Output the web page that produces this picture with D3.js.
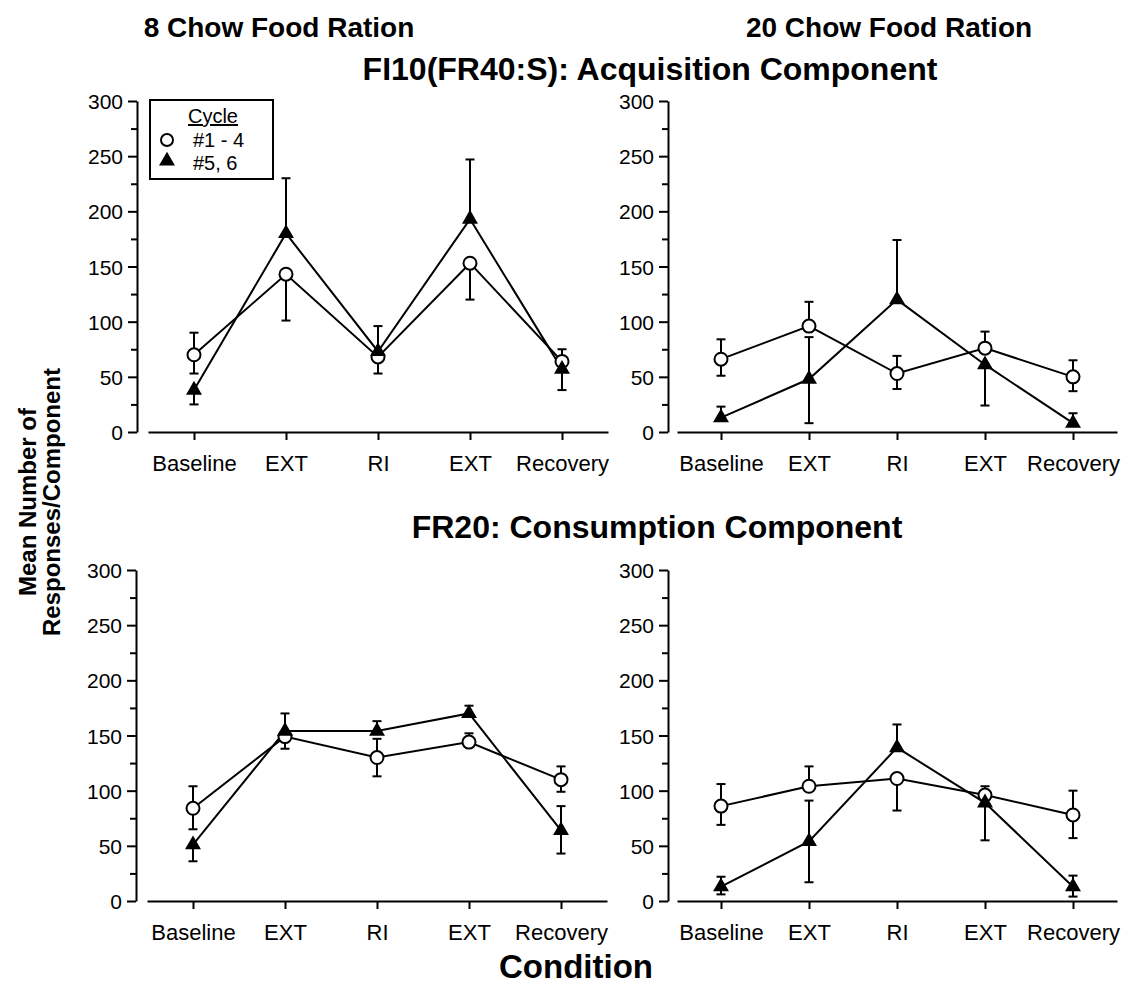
<!DOCTYPE html>
<html>
<head>
<meta charset="utf-8">
<script src="https://cdn.jsdelivr.net/npm/d3@7"></script>
<style>
    body { margin: 0; background: #fff; }
    svg { display: block; font-family: "Liberation Sans", Arial, sans-serif; }
</style>
</head>
<body>
<div id="chart"></div>
<script>
const conditions = ["Baseline", "EXT", "RI", "EXT", "Recovery"];
const yTicks = [0, 50, 100, 150, 200, 250, 300];
const yMinorTicks = [25, 75, 125, 175, 225, 275];
const seriesNames = ["#1 - 4", "#5, 6"];

// 8 chow, acquisition component
const acq8Cycle14 = [70, 143, 68, 153, 64];
const acq8Cycle14Up = [20, 0, 0, 0, 11];
const acq8Cycle14Down = [17, 42, 15, 33, 0];
const acq8Cycle56 = [38, 180, 73, 193, 57];
const acq8Cycle56Up = [0, 50, 23, 54, 0];
const acq8Cycle56Down = [13, 0, 0, 0, 19];

// 20 chow, acquisition component
const acq20Cycle14 = [66, 96, 53, 76, 50];
const acq20Cycle14Up = [18, 22, 16, 15, 15];
const acq20Cycle14Down = [15, 0, 14, 0, 13];
const acq20Cycle56 = [13, 48, 120, 61, 8];
const acq20Cycle56Up = [10, 38, 54, 0, 9];
const acq20Cycle56Down = [0, 40, 0, 37, 0];

// 8 chow, consumption component
const con8Cycle14 = [84, 149, 130, 144, 110];
const con8Cycle14Up = [20, 0, 17, 8, 12];
const con8Cycle14Down = [19, 11, 17, 0, 11];
const con8Cycle56 = [51, 154, 154, 170, 64];
const con8Cycle56Up = [0, 16, 9, 7, 22];
const con8Cycle56Down = [15, 0, 0, 0, 21];

// 20 chow, consumption component
const con20Cycle14 = [86, 104, 111, 96, 78];
const con20Cycle14Up = [20, 18, 0, 8, 22];
const con20Cycle14Down = [17, 0, 29, 0, 21];
const con20Cycle56 = [13, 54, 139, 89, 13];
const con20Cycle56Up = [9, 37, 21, 0, 10];
const con20Cycle56Down = [7, 37, 0, 34, 9];

const width = 1146;
const height = 987;

const svg = d3.select("#chart").append("svg")
    .attr("width", width)
    .attr("height", height);

const panels = [
    {axisX: 137, x0: 148, x1: 608, y0: 432, y1: 101,
        circle: [acq8Cycle14, acq8Cycle14Up, acq8Cycle14Down],
        triangle: [acq8Cycle56, acq8Cycle56Up, acq8Cycle56Down], legend: true},
    {axisX: 668, x0: 677, x1: 1117, y0: 432, y1: 101,
        circle: [acq20Cycle14, acq20Cycle14Up, acq20Cycle14Down],
        triangle: [acq20Cycle56, acq20Cycle56Up, acq20Cycle56Down]},
    {axisX: 136, x0: 147, x1: 607, y0: 901, y1: 570,
        circle: [con8Cycle14, con8Cycle14Up, con8Cycle14Down],
        triangle: [con8Cycle56, con8Cycle56Up, con8Cycle56Down]},
    {axisX: 668, x0: 677, x1: 1117, y0: 901, y1: 570,
        circle: [con20Cycle14, con20Cycle14Up, con20Cycle14Down],
        triangle: [con20Cycle56, con20Cycle56Up, con20Cycle56Down]}
];

const triangle = d3.symbol().type(d3.symbolTriangle).size(110);

const drawPanel = function (p) {
    const x = d3.scalePoint()
        .domain(d3.range(conditions.length))
        .range([p.x0, p.x1])
        .padding(0.5);
    const y = d3.scaleLinear()
        .domain([0, 300])
        .range([p.y0, p.y1]);

    const g = svg.append("g");

    // y axis: labelled ticks every 50, short ones in between
    g.append("g")
        .attr("transform", "translate(" + p.axisX + ",0)")
        .call(d3.axisLeft(y).tickValues(yTicks).tickSize(9).tickSizeOuter(0).tickPadding(5))
        .call(a => a.selectAll("text").style("font-size", "21px").attr("dy", "0.36em"));
    g.append("g")
        .attr("transform", "translate(" + p.axisX + ",0)")
        .call(d3.axisLeft(y).tickValues(yMinorTicks).tickSize(6).tickFormat(""))
        .call(a => a.select(".domain").remove());

    // x axis
    g.append("g")
        .attr("transform", "translate(0," + p.y0 + ")")
        .call(d3.axisBottom(x).tickSize(8).tickSizeOuter(0).tickPadding(13)
            .tickFormat(i => conditions[i]))
        .call(a => a.selectAll("text").style("font-size", "22px").attr("dy", "0.8em"));

    g.selectAll(".domain, .tick line")
        .attr("stroke", "#000")
        .attr("stroke-width", 2);
    g.selectAll(".tick text").attr("fill", "#000");

    const series = [
        {vals: p.circle, kind: "circle"},
        {vals: p.triangle, kind: "triangle"}
    ];

    const line = d3.line()
        .x((d, i) => x(i))
        .y(d => y(d));

    series.forEach(function (s) {
        g.append("path")
            .datum(s.vals[0])
            .attr("d", line)
            .attr("fill", "none")
            .attr("stroke", "#000")
            .attr("stroke-width", 2);
    });

    // error bars, drawn only on the side shown in the figure
    series.forEach(function (s) {
        const [mean, up, down] = s.vals;
        mean.forEach(function (m, i) {
            [up[i], -down[i]].forEach(function (e) {
                if (e === 0) {
                    return;
                }
                const cx = x(i);
                g.append("line")
                    .attr("x1", cx).attr("x2", cx)
                    .attr("y1", y(m)).attr("y2", y(m + e))
                    .attr("stroke", "#000").attr("stroke-width", 2);
                g.append("line")
                    .attr("x1", cx - 4.5).attr("x2", cx + 4.5)
                    .attr("y1", y(m + e)).attr("y2", y(m + e))
                    .attr("stroke", "#000").attr("stroke-width", 2);
            });
        });
    });

    series.forEach(function (s) {
        const marks = g.selectAll(null)
            .data(s.vals[0])
            .enter();
        if (s.kind === "circle") {
            marks.append("circle")
                .attr("cx", (d, i) => x(i))
                .attr("cy", d => y(d))
                .attr("r", 6.5)
                .attr("fill", "#fff")
                .attr("stroke", "#000")
                .attr("stroke-width", 2);
        } else {
            marks.append("path")
                .attr("d", triangle)
                .attr("transform", (d, i) => "translate(" + x(i) + "," + y(d) + ")")
                .attr("fill", "#000");
        }
    });

    if (p.legend) {
        const lg = g.append("g");
        lg.append("rect")
            .attr("x", 150).attr("y", 100)
            .attr("width", 123).attr("height", 79)
            .attr("fill", "#fff")
            .attr("stroke", "#000")
            .attr("stroke-width", 2);
        lg.append("text")
            .attr("x", 213).attr("y", 123)
            .attr("text-anchor", "middle")
            .style("font-size", "20px")
            .style("text-decoration", "underline")
            .text("Cycle");
        lg.append("circle")
            .attr("cx", 167).attr("cy", 140).attr("r", 6)
            .attr("fill", "#fff").attr("stroke", "#000").attr("stroke-width", 2);
        lg.append("path")
            .attr("d", triangle)
            .attr("transform", "translate(167,161)");
        lg.selectAll(".entry")
            .data(seriesNames)
            .enter().append("text")
            .attr("x", 193)
            .attr("y", (d, i) => 147 + i * 23)
            .style("font-size", "20px")
            .text(d => d);
    }
};

panels.forEach(drawPanel);

// titles
const titles = [
    {text: "8 Chow Food Ration", x: 279, y: 37, size: 28},
    {text: "20 Chow Food Ration", x: 889, y: 37, size: 28},
    {text: "FI10(FR40:S): Acquisition Component", x: 650, y: 80, size: 32},
    {text: "FR20: Consumption Component", x: 657, y: 538, size: 32},
    {text: "Condition", x: 576, y: 978, size: 33}
];
svg.selectAll(".title")
    .data(titles)
    .enter().append("text")
    .attr("class", "title")
    .attr("x", d => d.x)
    .attr("y", d => d.y)
    .attr("text-anchor", "middle")
    .style("font-size", d => d.size + "px")
    .style("font-weight", "bold")
    .text(d => d.text);

svg.append("text")
    .attr("transform", "translate(0,502) rotate(-90)")
    .attr("text-anchor", "middle")
    .style("font-size", "24px")
    .style("font-weight", "bold")
    .selectAll("tspan")
    .data(["Mean Number of", "Responses/Component"])
    .enter().append("tspan")
    .attr("x", 0)
    .attr("y", (d, i) => 36 + i * 24)
    .text(d => d);
</script>
</body>
</html>
